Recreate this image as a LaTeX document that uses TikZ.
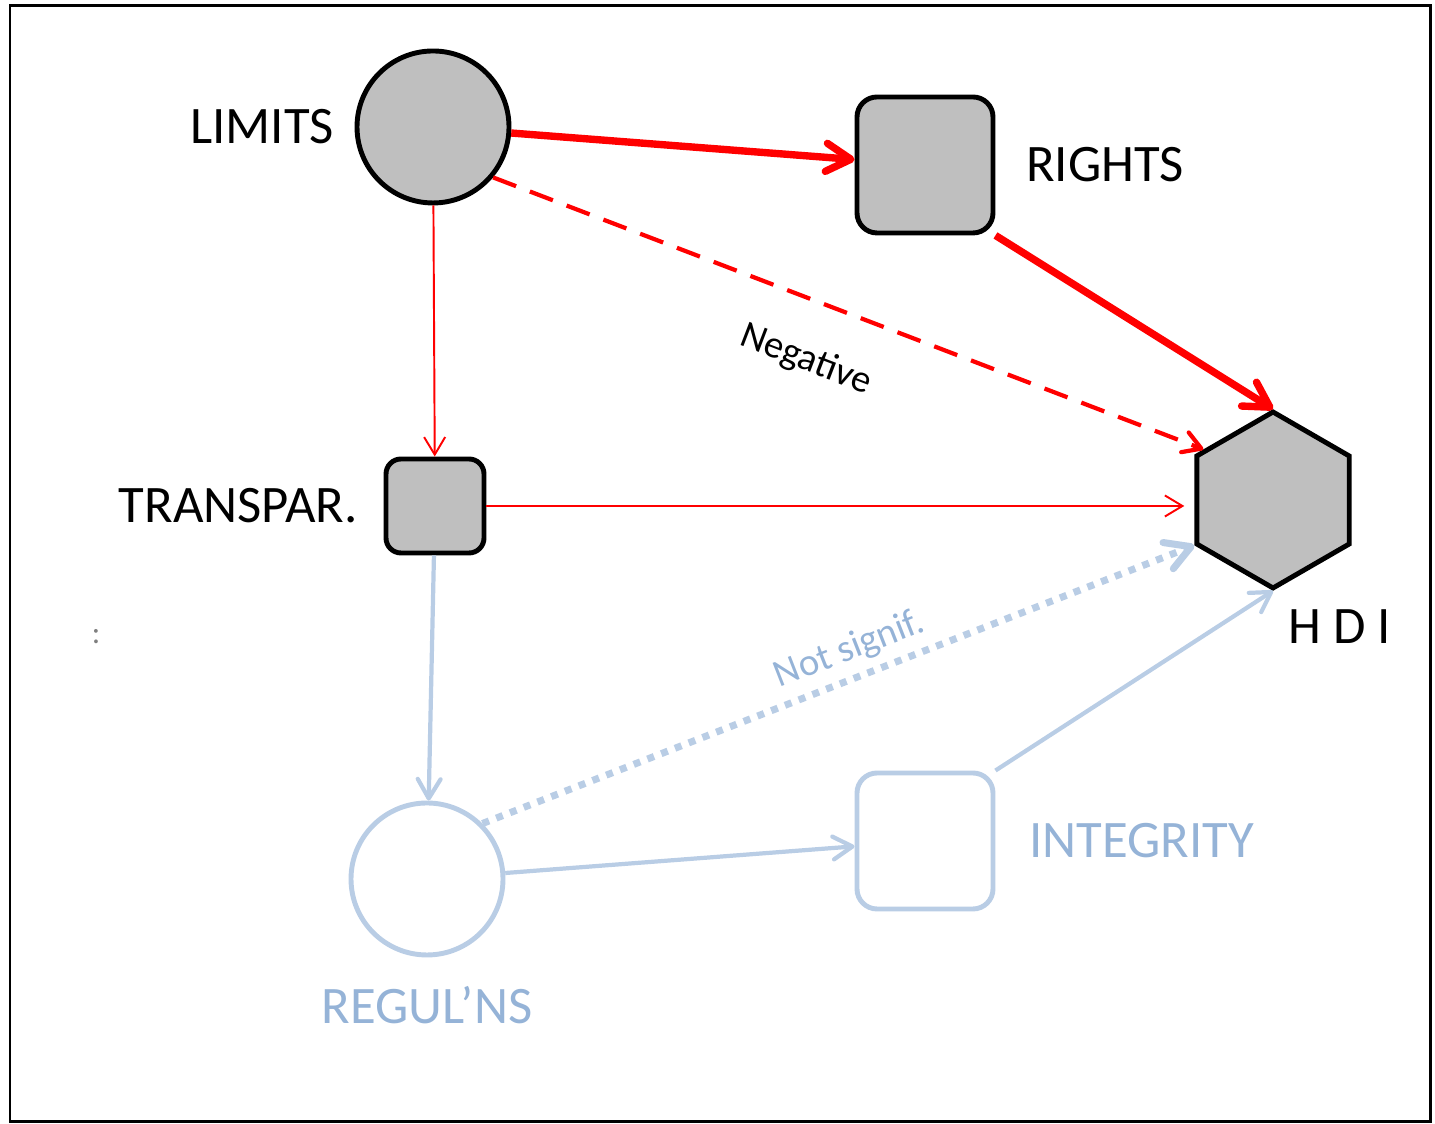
\documentclass[tikz,border=0pt]{standalone}
\usepackage{fontspec}
\setmainfont{Carlito}
\usepackage{xcolor}
\definecolor{hred}{HTML}{FF0000}
\definecolor{hgray}{HTML}{BFBFBF}
\definecolor{hpale}{HTML}{B9CDE5}
\definecolor{hpaletext}{HTML}{95B3D7}
\definecolor{hdot}{HTML}{7F7F7F}
\usepackage{tikz}
\usetikzlibrary{arrows.meta,positioning,shapes.geometric}

\begin{document}
\begin{tikzpicture}[
  ball/.style={circle,draw=black,fill=hgray,line width=1.4pt,minimum size=1.52cm,inner sep=0pt},
  sq/.style={rectangle,rounded corners=0.2cm,draw=black,fill=hgray,line width=1.4pt,minimum size=1.36cm,inner sep=0pt},
  hexa/.style={regular polygon,regular polygon sides=6,shape border rotate=90,draw=black,fill=hgray,line width=1.4pt,minimum size=1.76cm,inner sep=0pt},
  pale/.style={draw=hpale,fill=white},
  tag/.style={font=\fontsize{15}{18}\selectfont,inner sep=0pt},
  small/.style={font=\fontsize{11}{13}\selectfont,inner sep=0pt},
  bigarr/.style={hred,line width=2.1pt,-{Straight Barb[length=7pt,width=8pt,round]}},
  thinarr/.style={hred,line width=0.55pt,-{Straight Barb[length=5pt,width=6pt]}},
  negarr/.style={hred,line width=1.2pt,dash pattern=on 7pt off 4.2pt,-{Straight Barb[length=5pt,width=6pt,round]}},
  palearr/.style={hpale,line width=1.2pt,-{Straight Barb[length=5.5pt,width=6.5pt,round]}},
  dotarr/.style={hpale,line width=2pt,dash pattern=on 2pt off 2.2pt,-{Straight Barb[length=7pt,width=8pt,round]}}]
\useasboundingbox (0,0) rectangle (14.35,11.24);
% frame
\draw[line width=0.85pt] (0.10,0.02) rectangle (14.30,11.18);
% nodes
\node[ball] (limits) at (4.33,9.97) {};
\node[tag,left=0.2cm of limits] (limitslbl) {LIMITS};
\node[sq] (rights) at (9.25,9.59) {};
\node[tag,right=0.3cm of rights] (rightslbl) {RIGHTS};
\node[sq,minimum width=0.98cm,minimum height=0.94cm,rounded corners=0.15cm] (transp) at (4.35,6.18) {};
\node[tag,left=0.25cm of transp] (transplbl) {TRANSPAR.};
\node[hexa] (hdi) at (12.73,6.24) {};
\node[tag,below right=0.18cm and 0.15cm of hdi.south] (hdilbl) {H D I};
\node[ball,pale] (reguls) at (4.27,2.45) {};
\node[tag,text=hpaletext,below=0.28cm of reguls] (reguislbl) {REGUL'NS};
\node[sq,pale] (integ) at (9.25,2.83) {};
\node[tag,text=hpaletext,right=0.33cm of integ] (integlbl) {INTEGRITY};
\node[text=hdot,font=\fontsize{9}{10}\selectfont] (colon) at (0.96,4.87) {:};
% red paths
\draw[bigarr] (limits) -- (rights);
\draw[bigarr] (rights.south east) -- (hdi.north);
\draw[negarr] (limits.-40) -- node[small,sloped,below=0.4cm,pos=0.47,text=black] {Negative} (hdi.144);
\draw[thinarr] (limits) -- (transp);
\draw[thinarr,shorten >=0.1cm] (transp.east) -- (transp.east -| hdi.west);
% pale paths
\draw[palearr] (transp) -- (reguls);
\draw[dotarr] (reguls.45) -- node[small,sloped,above=0.08cm,pos=0.53,text=hpaletext] {Not signif.} (hdi.210);
\draw[palearr] (reguls) -- (integ);
\draw[palearr] (integ.north east) -- (hdi.south);
\end{tikzpicture}
\end{document}
